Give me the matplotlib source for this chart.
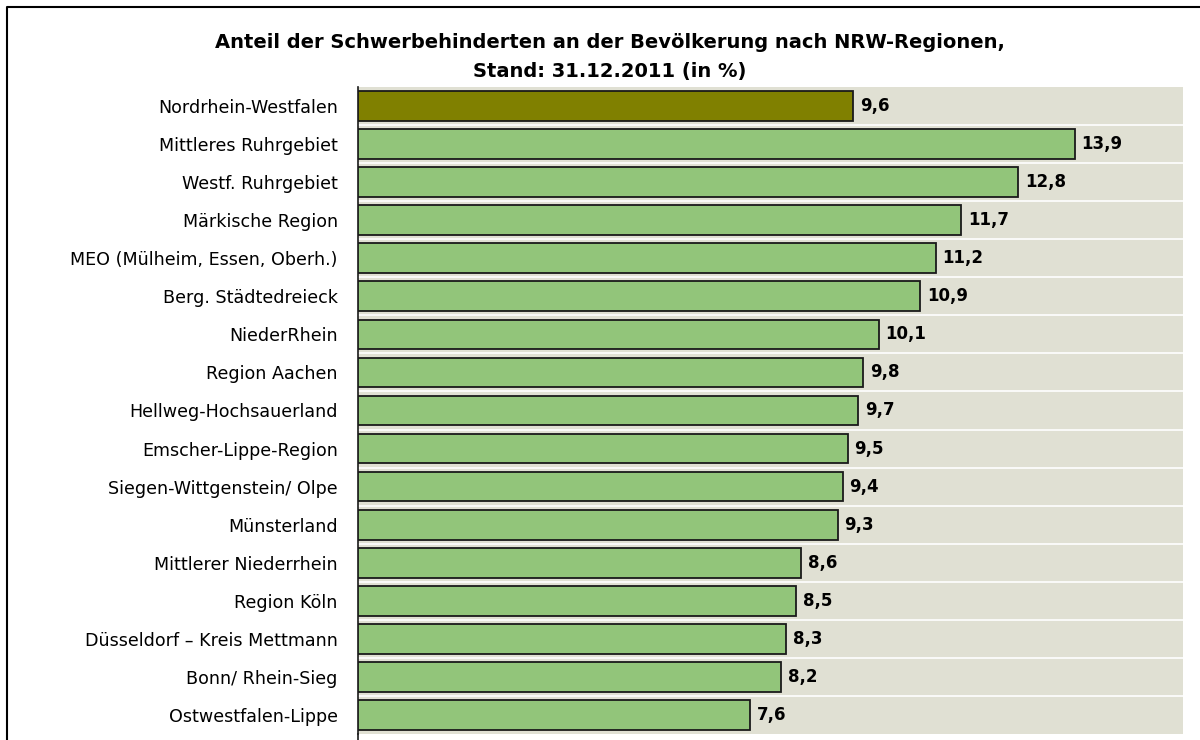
import matplotlib.pyplot as plt
from matplotlib.lines import Line2D

plt.rcParams['font.family'] = ['DejaVu Sans']

regions = ["Nordrhein-Westfalen", "Mittleres Ruhrgebiet", "Westf. Ruhrgebiet",
           "Märkische Region", "MEO (Mülheim, Essen, Oberh.)", "Berg. Städtedreieck",
           "NiederRhein", "Region Aachen", "Hellweg-Hochsauerland",
           "Emscher-Lippe-Region", "Siegen-Wittgenstein/ Olpe", "Münsterland",
           "Mittlerer Niederrhein", "Region Köln", "Düsseldorf – Kreis Mettmann",
           "Bonn/ Rhein-Sieg", "Ostwestfalen-Lippe"]
shares = [9.6, 13.9, 12.8, 11.7, 11.2, 10.9, 10.1, 9.8, 9.7,
          9.5, 9.4, 9.3, 8.6, 8.5, 8.3, 8.2, 7.6]

W, H = 1200, 740
fig = plt.figure(figsize=(12, 7.4), dpi=100)
ax = fig.add_axes([358 / W, 1 - 734 / H, (1183 - 358) / W, (734 - 87) / H])
ax.set_facecolor('#e0e0d3')

ypos = list(range(len(regions)))
colors = ['#808000'] + ['#92c57a'] * (len(regions) - 1)
ax.barh(ypos, shares, height=0.78, color=colors, edgecolor='#1a1a1a',
        linewidth=1.3, zorder=3)

for y, v in zip(ypos, shares):
    ax.text(v + 0.13, y, f"{v:.1f}".replace('.', ','), va='center', ha='left',
            fontsize=12, fontweight='bold', zorder=4)

# white separators between categories
for b in range(1, len(regions)):
    ax.axhline(b - 0.5, color='white', linewidth=1.2, zorder=1)

ax.set_xlim(0, 16)
ax.set_ylim(len(regions) - 0.5, -0.5)
ax.set_yticks(ypos)
ax.set_yticklabels(regions, fontsize=12.6)
ax.tick_params(axis='y', length=0, pad=14.5)
ax.set_xticks([])
for s in ['top', 'right', 'bottom']:
    ax.spines[s].set_visible(False)
ax.spines['left'].set_linewidth(1.2)
ax.spines['left'].set_color('#1a1a1a')
ax.add_line(Line2D([0, 0], [len(regions) - 0.5, len(regions) - 0.3], color='#1a1a1a',
                   linewidth=1.2, clip_on=False))

fig.text(610 / W, 1 - 42 / H,
         "Anteil der Schwerbehinderten an der Bevölkerung nach NRW-Regionen,",
         ha='center', va='center', fontsize=14, fontweight='bold')
fig.text(610 / W, 1 - 72 / H, "Stand: 31.12.2011 (in %)",
         ha='center', va='center', fontsize=14, fontweight='bold')

# chart frame (top and left edge)
fig.add_artist(Line2D([7 / W, 7 / W, 1], [0, 1 - 7 / H, 1 - 7 / H],
                      transform=fig.transFigure, color='black', linewidth=1.5))

fig.savefig('out.png', dpi=100)
